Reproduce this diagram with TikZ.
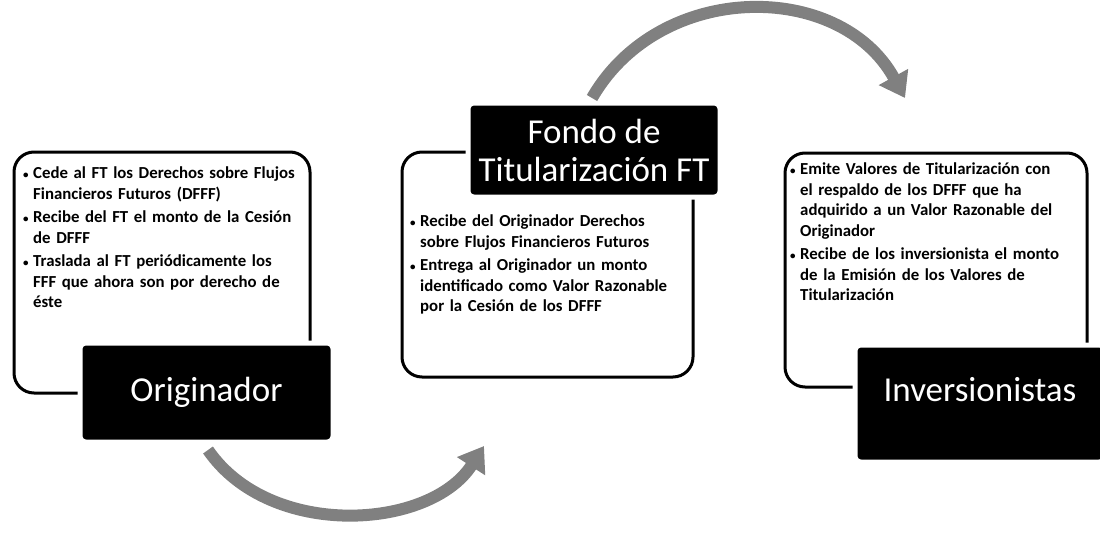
\documentclass[tikz,border=0pt]{standalone}
\usepackage{fontspec}
\setmainfont{Carlito}
\usetikzlibrary{arrows.meta}
\newcommand{\itm}{\par\hangindent=10pt\hangafter=1\noindent\makebox[10pt][l]{\fontsize{11}{11}\selectfont\textbullet}}

\begin{document}
\begin{tikzpicture}[x=1pt,y=-1pt,
  panel/.style={draw,line width=3pt,rounded corners=20pt,inner sep=0pt},
  etiq/.style={fill=black,draw=white,line width=5pt,rounded corners=6pt,text=white,
    align=center,inner sep=0pt,font=\fontsize{35}{38}\selectfont},
  txt/.style={anchor=north west,inner sep=0pt,text width=300pt,align=left,
    font=\fontsize{16.8}{20.5}\selectfont\bfseries\setlength{\parskip}{3pt}},
  flecha/.style={line width=12pt,black!50,-{Triangle[length=24pt,width=32pt]}}]
  \useasboundingbox (0,0) rectangle (1100,533);
  \node[panel,minimum width=296pt,minimum height=241pt] (izq) at (162,272.5) {};
  \node[panel,minimum width=291pt,minimum height=225pt] (centro) at (547.5,264.5) {};
  \node[panel,minimum width=302pt,minimum height=234pt] (der) at (936,270) {};
  \node[txt] (tizq) at (23,155) {\itm Cede al FT los Derechos sobre Flujos\newline Financieros Futuros (DFFF)
    \itm Recibe del FT el monto de la Cesión\newline de DFFF
    \itm Traslada al FT periódicamente los\newline FFF que ahora son por derecho de\newline éste\par};
  \node[txt] (tcentro) at (410,203) {\itm Recibe del Originador Derechos\newline sobre Flujos Financieros Futuros
    \itm Entrega al Originador un monto\newline identificado como Valor Razonable\newline por la Cesión de los DFFF\par};
  \node[txt] (tder) at (790,151) {\itm Emite Valores de Titularización con\newline el respaldo de los DFFF que ha\newline adquirido a un Valor Razonable del\newline Originador
    \itm Recibe de los inversionista el monto\newline de la Emisión de los Valores de\newline Titularización\par};
  \node[etiq,minimum width=253pt,minimum height=99pt] (orig) at (206.5,392.5) {Originador};
  \node[etiq,minimum width=252pt,minimum height=94pt] (fondo) at (594,150) {Fondo de\\Titularización FT};
  \node[etiq,minimum width=250pt,minimum height=117pt,text depth=28pt] (inv) at (980,403.5) {Inversionistas};
  \coordinate (f1a) at (208,450);
  \coordinate (f1b) at (484,446);
  \coordinate (f2a) at (592,98);
  \coordinate (f2b) at (905,98);
  \draw[flecha] (f1a) .. controls (270,540) and (430,530) .. (f1b);
  \draw[flecha] (f2a) .. controls (660,-20) and (840,-20) .. (f2b);
\end{tikzpicture}
\end{document}
